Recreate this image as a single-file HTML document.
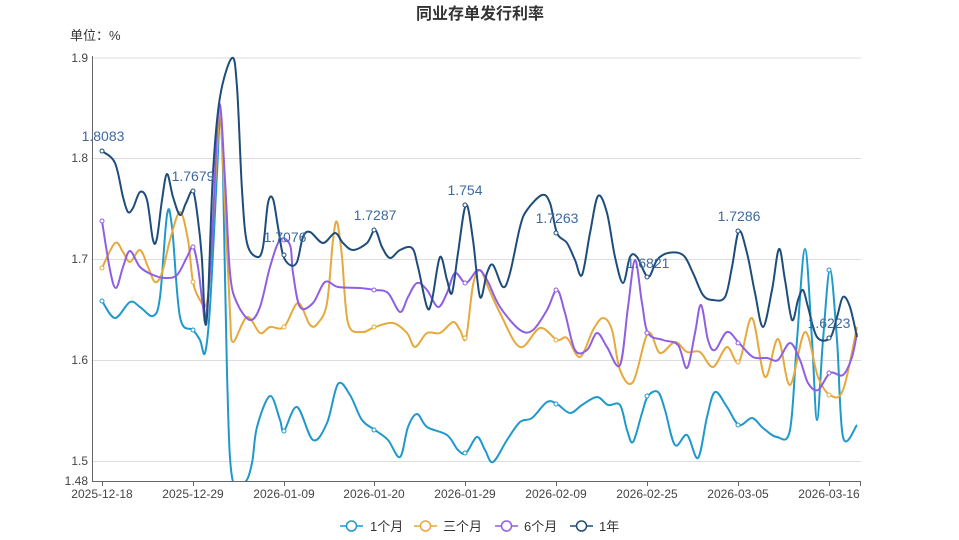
<!DOCTYPE html>
<html><head><meta charset="utf-8">
<style>
html,body{margin:0;padding:0;background:#fff;}
svg{display:block;font-family:"Liberation Sans","Noto Sans CJK SC",sans-serif;}
</style></head>
<body>
<svg id="s" width="959" height="540" viewBox="0 0 959 540" xmlns="http://www.w3.org/2000/svg">
<defs><clipPath id="cp"><rect x="92" y="52" width="772" height="429"/></clipPath></defs>
<rect width="959" height="540" fill="#fff"/>
<text x="480" y="19" text-anchor="middle" font-size="16" font-weight="bold" fill="#333">同业存单发行利率</text>
<text x="70" y="40" font-size="13" fill="#333">单位：%</text>
<g stroke="#ddd" stroke-width="1">
<line x1="92" x2="861" y1="58" y2="58"/>
<line x1="92" x2="861" y1="158.5" y2="158.5"/>
<line x1="92" x2="861" y1="259.5" y2="259.5"/>
<line x1="92" x2="861" y1="360.5" y2="360.5"/>
<line x1="92" x2="861" y1="461.5" y2="461.5"/>
</g>
<g font-size="12" fill="#444" text-anchor="end">
<text x="88" y="62">1.9</text>
<text x="88" y="162">1.8</text>
<text x="88" y="263">1.7</text>
<text x="88" y="364">1.6</text>
<text x="88" y="465">1.5</text>
<text x="88" y="485">1.48</text>
</g>
<g id="series" fill="none" stroke-width="2" clip-path="url(#cp)"></g>
<line x1="92.5" y1="56" x2="92.5" y2="481" stroke="#666"/>
<line x1="92" y1="481.5" x2="861" y2="481.5" stroke="#666"/>
<g stroke="#666">
<line x1="102.5" x2="102.5" y1="481" y2="486"/><line x1="193.5" x2="193.5" y1="481" y2="486"/>
<line x1="284.5" x2="284.5" y1="481" y2="486"/><line x1="374.5" x2="374.5" y1="481" y2="486"/>
<line x1="465.5" x2="465.5" y1="481" y2="486"/><line x1="556.5" x2="556.5" y1="481" y2="486"/>
<line x1="647.5" x2="647.5" y1="481" y2="486"/><line x1="738.5" x2="738.5" y1="481" y2="486"/>
<line x1="829.5" x2="829.5" y1="481" y2="486"/><line x1="860.5" x2="860.5" y1="481" y2="486"/>
</g>
<g font-size="12" fill="#444" text-anchor="middle">
<text x="102" y="498">2025-12-18</text><text x="193" y="498">2025-12-29</text>
<text x="284" y="498">2026-01-09</text><text x="374" y="498">2026-01-20</text>
<text x="465" y="498">2026-01-29</text><text x="556" y="498">2026-02-09</text>
<text x="647" y="498">2026-02-25</text><text x="738" y="498">2026-03-05</text>
<text x="829" y="498">2026-03-16</text>
</g>
<g font-size="14" fill="#3d6a9e" text-anchor="middle">
<text x="103" y="141">1.8083</text><text x="193" y="181">1.7679</text>
<text x="285" y="242">1.7076</text><text x="375" y="220">1.7287</text>
<text x="465" y="195">1.754</text><text x="557" y="223">1.7263</text>
<text x="648" y="268">1.6821</text><text x="739" y="221">1.7286</text>
<text x="829" y="328">1.6223</text>
</g>
<g stroke-width="1.5" fill="#fff">
<line x1="340" x2="363" y1="526" y2="526" stroke="#1f99cc"/><circle cx="351.5" cy="526" r="5" stroke="#1f99cc"/>
<line x1="414" x2="437" y1="526" y2="526" stroke="#e6a93c"/><circle cx="425.5" cy="526" r="5" stroke="#e6a93c"/>
<line x1="495" x2="518" y1="526" y2="526" stroke="#8f5fe3"/><circle cx="506.5" cy="526" r="5" stroke="#8f5fe3"/>
<line x1="570" x2="593" y1="526" y2="526" stroke="#1e4d7b"/><circle cx="581.5" cy="526" r="5" stroke="#1e4d7b"/>
</g>
<g font-size="13" fill="#333">
<text x="370" y="531">1个月</text><text x="443" y="531">三个月</text>
<text x="524" y="531">6个月</text><text x="599" y="531">1年</text>
</g>
</svg>
<script>
var S={
"#1f99cc":[[102,301],[115,318],[130,302],[140,307],[153,316],[160,297],[167,215],[172,227],[180,317],[193,330],[200,340],[205,353],[210,307],[217,173],[220,117],[223,173],[227,373],[232,477],[245,482],[252,463],[257,427],[270,396],[280,420],[284,431],[297,407],[313,440],[327,423],[338,384],[350,395],[362,420],[375,430],[388,440],[400,457],[408,427],[417,414],[427,427],[447,435],[458,450],[466,453],[477,437],[485,450],[493,462],[507,440],[520,422],[532,418],[547,402],[557,404],[570,413],[582,405],[597,397],[608,405],[620,405],[627,430],[633,442],[642,413],[648,396],[658,392],[665,410],[675,445],[687,435],[698,458],[707,417],[715,392],[727,407],[739,425],[752,418],[763,428],[777,437],[790,430],[797,340],[805,249],[812,340],[817,420],[823,340],[830,270],[837,340],[843,437],[857,425]],
"#e6a93c":[[102,268],[115,243],[123,252],[130,262],[140,250],[148,267],[155,282],[162,273],[170,240],[180,212],[188,240],[193,282],[200,300],[206,305],[210,273],[217,150],[220,107],[225,207],[230,313],[233,342],[247,317],[260,333],[270,327],[284,327],[298,303],[310,325],[318,323],[327,303],[333,240],[337,222],[342,257],[348,323],[362,332],[375,327],[393,323],[407,333],[415,347],[427,333],[440,333],[453,322],[460,330],[466,338],[473,285],[480,270],[488,287],[500,313],[520,347],[540,328],[557,340],[567,338],[580,357],[593,330],[603,318],[612,330],[620,370],[633,382],[648,333],[660,353],[675,342],[687,352],[700,352],[713,367],[727,347],[739,362],[752,318],[765,377],[778,339],[790,385],[805,332],[818,377],[830,395],[843,390],[857,327]],
"#8f5fe3":[[102,221],[110,270],[116,288],[123,267],[130,251],[140,267],[153,275],[165,278],[177,275],[187,257],[193,247],[198,267],[203,307],[206,318],[212,240],[219,105],[225,180],[230,273],[237,303],[250,320],[260,307],[270,267],[280,240],[290,245],[293,273],[300,307],[313,303],[325,282],[338,287],[360,288],[375,290],[388,293],[400,312],[408,297],[417,283],[427,290],[438,307],[447,293],[455,273],[466,283],[478,270],[487,280],[500,307],[520,330],[533,330],[547,310],[557,290],[565,313],[575,350],[587,350],[597,333],[607,347],[620,365],[628,307],[635,260],[642,303],[648,333],[663,340],[678,345],[687,368],[695,333],[701,305],[708,340],[715,350],[727,332],[739,343],[753,357],[767,358],[778,360],[790,343],[800,360],[808,383],[818,390],[830,373],[843,375],[852,357],[857,333]],
"#1e4d7b":[[102,151],[115,163],[123,197],[128,212],[133,208],[140,192],[147,200],[153,240],[157,238],[162,200],[167,174],[173,197],[180,215],[186,203],[193,191],[198,220],[202,260],[205,322],[208,300],[213,173],[220,97],[232,58],[237,87],[242,190],[247,243],[257,257],[263,247],[268,203],[273,199],[278,227],[283,255],[290,265],[297,262],[303,237],[310,232],[323,243],[335,233],[343,243],[353,250],[367,243],[375,230],[382,247],[390,258],[400,250],[412,248],[418,267],[427,307],[432,300],[440,257],[447,280],[452,293],[458,253],[466,205],[473,240],[480,297],[487,273],[493,265],[503,287],[510,273],[520,227],[527,210],[542,195],[550,203],[557,233],[567,243],[575,260],[582,275],[590,233],[598,196],[607,213],[615,257],[623,283],[630,257],[637,257],[648,277],[657,260],[668,253],[683,255],[693,273],[703,295],[713,300],[725,297],[732,267],[739,231],[747,253],[755,293],[763,327],[772,290],[779,249],[785,280],[792,320],[798,300],[803,290],[808,307],[817,337],[830,338],[837,317],[843,297],[850,307],[857,337]]
};
function path(p){var d="M"+p[0][0]+","+p[0][1];for(var i=0;i<p.length-1;i++){var a=p[i-1]||p[i],b=p[i],c=p[i+1],e=p[i+2]||c,t=6;
d+=" C"+(b[0]+(c[0]-a[0])/t).toFixed(1)+","+(b[1]+(c[1]-a[1])/t).toFixed(1)+" "+(c[0]-(e[0]-b[0])/t).toFixed(1)+","+(c[1]-(e[1]-b[1])/t).toFixed(1)+" "+c[0]+","+c[1];}return d;}
var g=document.getElementById("series"),ns="http://www.w3.org/2000/svg";
var mk=[102,193,284,374,465,556,647,738,829];
for(var k in S){var el=document.createElementNS(ns,"path");el.setAttribute("d",path(S[k]));el.setAttribute("stroke",k);g.appendChild(el);
mk.forEach(function(x){var p=S[k],best=p[0];p.forEach(function(q){if(Math.abs(q[0]-x)<Math.abs(best[0]-x))best=q;});
var c=document.createElementNS(ns,"circle");c.setAttribute("cx",x);c.setAttribute("cy",best[1]);c.setAttribute("r","2");c.setAttribute("fill","#fff");c.setAttribute("stroke",k);c.setAttribute("stroke-width","1");g.appendChild(c);});}
</script>
</body></html>
